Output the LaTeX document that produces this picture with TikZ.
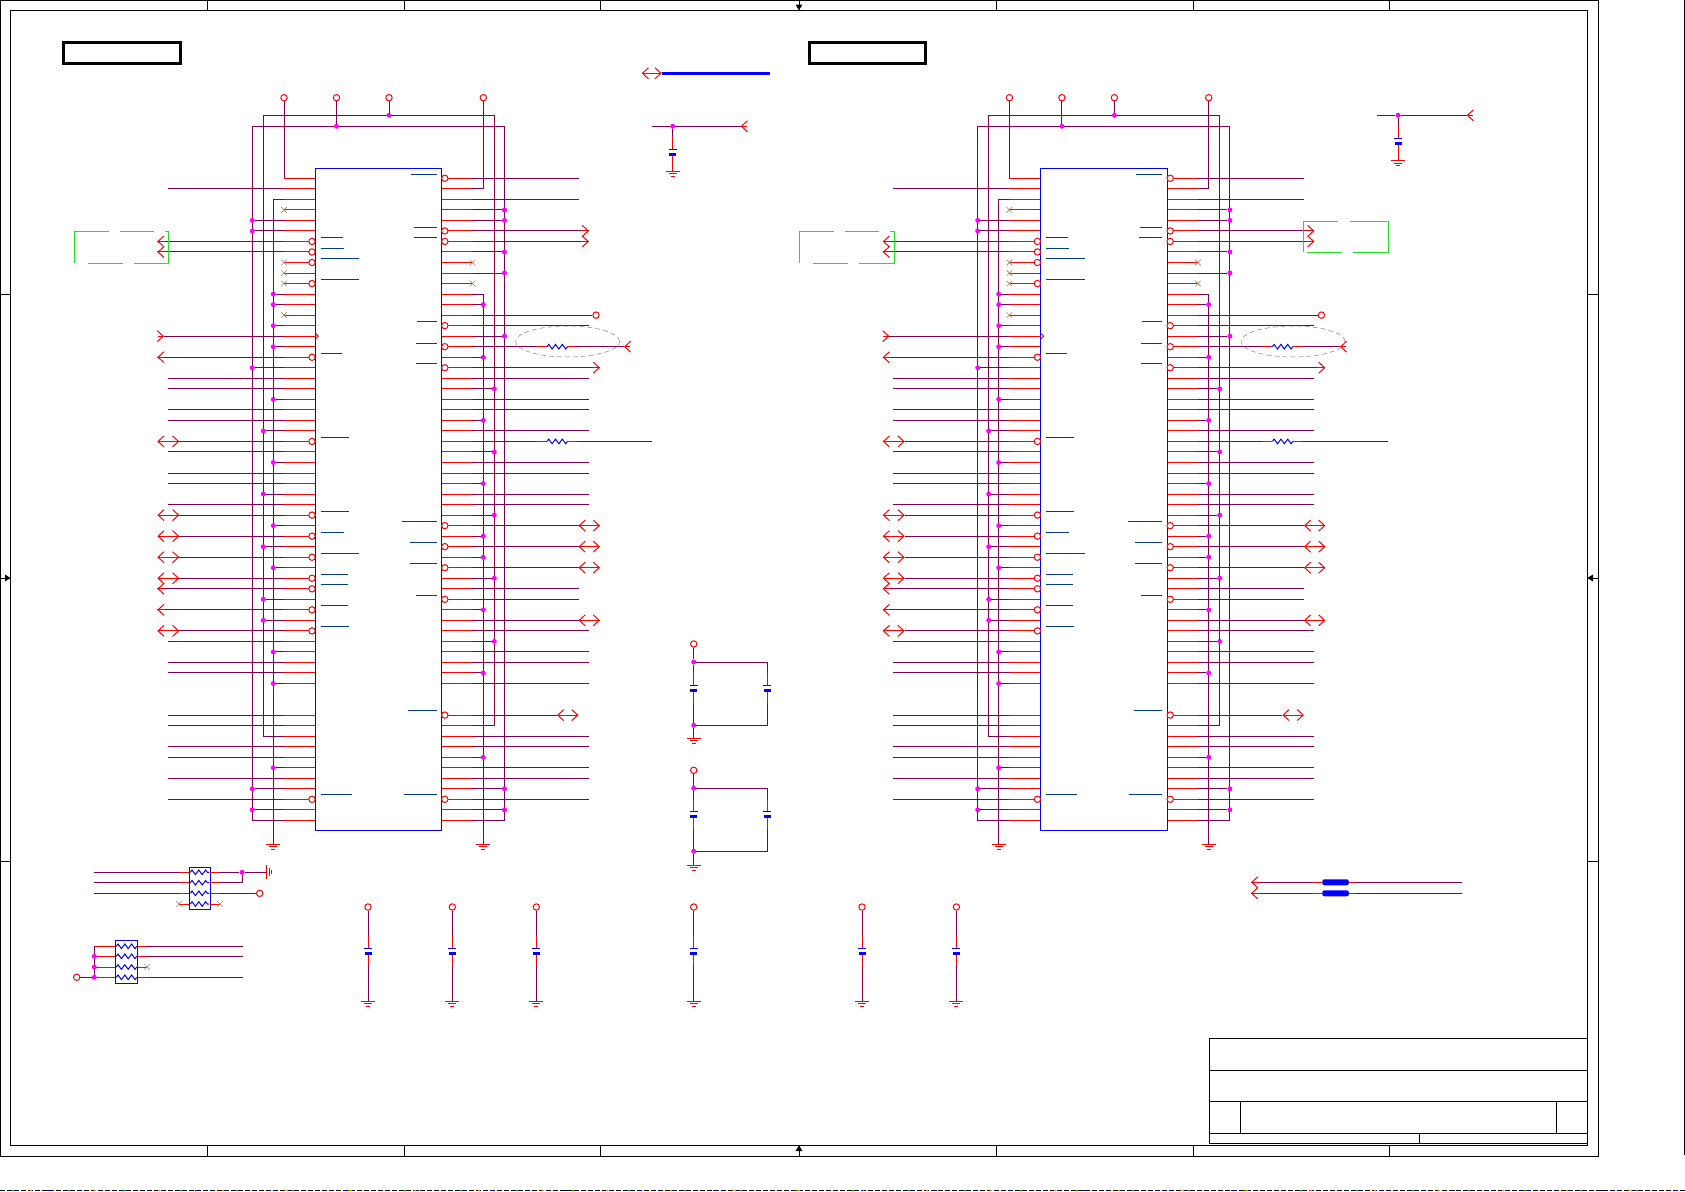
\documentclass[tikz,border=0pt]{standalone}
\usepackage{tikz}
\usetikzlibrary{arrows.meta,decorations.pathmorphing,shapes.geometric,shapes.misc}

\definecolor{wirecol}{HTML}{800050}
\definecolor{barcol}{HTML}{004080}
\definecolor{nccol}{HTML}{A88060}
\definecolor{boxgreen}{HTML}{22E022}
\definecolor{dotcol}{HTML}{FF00FF}
\definecolor{pincol}{HTML}{FF0000}
\definecolor{chipcol}{HTML}{0000FF}

% ground symbol hanging below a named coordinate
\newcommand{\earth}[1]{%
  \draw[pinwire] ([xshift=-7pt]#1) -- ([xshift=7pt]#1)
    ([xshift=-4pt,yshift=-2.5pt]#1) -- ([xshift=4pt,yshift=-2.5pt]#1)
    ([xshift=-2pt,yshift=-5pt]#1) -- ([xshift=2pt,yshift=-5pt]#1);}

% capacitor: name, x, y of the upper plate
\newcommand{\capbank}[3]{%
  \coordinate (#1p) at (#2,#3);
  \coordinate (#1t) at ([yshift=12pt]#1p);
  \coordinate (#1b) at ([yshift=-18pt]#1p);
  \draw[pinwire] (#1t) -- (#1p);
  \draw[pinwire] ([yshift=-5.3pt]#1p) -- (#1b);
  \draw[platethin] ([xshift=-4pt]#1p) -- ([xshift=4pt]#1p);
  \draw[platefat] ([xshift=-3.5pt,yshift=-5.3pt]#1p) -- ([xshift=3.5pt,yshift=-5.3pt]#1p);}

% one chip with its wiring: name, x shift, end of row 16, end of row 25
\newcommand{\chipunit}[4]{%
\begin{scope}[shift={(#2,0)}]
  \coordinate (#1ta) at (252.3,126.3);
  \coordinate (#1tz) at (504.5,126.3);
  \coordinate (#1tb) at (263.3,115.3);
  \coordinate (#1ty) at (494.3,115.3);
  \coordinate (#1lg) at (273.3,844);
  \coordinate (#1rg) at (483.3,844);
  \coordinate (#1le) at (168,0);
  \coordinate (#1lh) at (157.3,0);
  \coordinate (#1lu) at (179.3,0);
  \coordinate (#1lj) at (164,0);
  \coordinate (#1re) at (589,0);
  \coordinate (#1rs) at (578.5,0);
  \coordinate (#1rw) at (600,0);
  \coordinate (#1ra) at (537,0);
  \coordinate (#1rb) at (547,0);
  \coordinate (#1rc) at (567.5,0);
  \coordinate (#1rd) at (577,0);
  \foreach \i in {0,...,48,51,52,...,61}{
    \pgfmathsetmacro\ry{178.3+10.525*\i}
    \coordinate (#1lp\i) at (315.3,\ry);
    \coordinate (#1lk\i) at (284,\ry);
    \coordinate (#1rp\i) at (441.5,\ry);
    \coordinate (#1rk\i) at (472.5,\ry);
  }

  % supply rails
  \draw[sigwire] (#1lk61) -| (#1ta) -- (#1tz) |- (#1rk61);
  \draw[sigwire] (#1lk53) -| (#1tb) -- (#1ty) |- (#1rk52);
  \draw[sigwire] (#1lk2) -| (#1lg);
  \draw[sigwire] (#1rk11) -| (#1rg);
  \earth{#1lg}
  \earth{#1rg}

  \node[ringmark] (#1vp1) at (284,97.7) {};
  \node[ringmark] (#1vp2) at (336.5,97.7) {};
  \node[ringmark] (#1vp3) at (389,97.7) {};
  \node[ringmark] (#1vp4) at (483.3,97.7) {};
  \node[junction] (#1vd2) at (336.5,126.3) {};
  \node[junction] (#1vd3) at (389,115.3) {};
  \draw[sigwire] (#1vp1) -- (#1lk0);
  \draw[sigwire] (#1vp2) -- (#1vd2);
  \draw[sigwire] (#1vp3) -- (#1vd3);
  \draw[sigwire] (#1rk1) -| (#1vp4);

  % junctions on the rails, left side
  \foreach \i in {4,5,18,58,60}{
    \node[junction] (#1da\i) at (#1lk\i -| #1ta) {};
    \draw[sigwire] (#1lk\i) -- (#1da\i);}
  \foreach \i in {24,30,35,40,42}{
    \node[junction] (#1db\i) at (#1lk\i -| #1tb) {};
    \draw[sigwire] (#1lk\i) -- (#1db\i);}
  \foreach \i in {11,12,14,16,21,27,33,37,45,48,56}{
    \node[junction] (#1dc\i) at (#1lk\i -| #1lg) {};
    \draw[sigwire] (#1lk\i) -- (#1dc\i);}
  % junctions on the rails, right side
  \foreach \i in {3,4,7,9,15,58,60}{
    \node[junction] (#1dz\i) at (#1rk\i -| #1tz) {};
    \draw[sigwire] (#1rk\i) -- (#1dz\i);}
  \foreach \i in {20,26,32,38,44}{
    \node[junction] (#1dy\i) at (#1rk\i -| #1ty) {};
    \draw[sigwire] (#1rk\i) -- (#1dy\i);}
  \foreach \i in {12,17,23,29,34,36,41,47,55}{
    \node[junction] (#1dx\i) at (#1rk\i -| #1rg) {};
    \draw[sigwire] (#1rk\i) -- (#1dx\i);}

  % plain signal rows
  \foreach \i in {1,19,20,22,23,26,28,29,31,44,46,47,51,52,54,55,57,59}
    \draw[sigwire] (#1lk\i) -- (#1lk\i -| #1le);
  \foreach \i in {14,19,21,22,24,27,28,30,31,43,45,46,48,53,54,56,57,59}
    \draw[sigwire] (#1rk\i) -- (#1rk\i -| #1re);
  \foreach \i in {0,2,39,40}
    \draw[sigwire] (#1rk\i) -- (#1rk\i -| #1rs);

  % row 13 ends in an off-page ring
  \coordinate (#1rv) at (596,0);
  \node[ringmark] (#1vp5) at (#1rk13 -| #1rv) {};
  \draw[sigwire] (#1rk13) -- (#1vp5);

  % rows with a series resistor
  \foreach \i/\e in {16/#3,25/#4}{
    \coordinate (#1rz\i) at (\e,0);
    \draw[sigwire] (#1rk\i) -- (#1rk\i -| #1ra);
    \draw[pinwire] (#1rk\i -| #1ra) -- (#1rk\i -| #1rb);
    \draw[resline] (#1rk\i -| #1rb) -- (#1rk\i -| #1rc);
    \draw[pinwire] (#1rk\i -| #1rc) -- (#1rk\i -| #1rd);
    \draw[sigwire] (#1rk\i -| #1rd) -- (#1rk\i -| #1rz\i);
  }
  \coordinate (#1rt) at (#1rk16 -| #1rz16);
  \draw[pinwire,<-] (#1rt) -- ([xshift=6pt]#1rt);

  % off-page connectors, left
  \foreach \i in {6,7,17,39,41}{
    \coordinate (#1lt\i) at (#1lk\i -| #1lh);
    \draw[sigwire] (#1lk\i) -- (#1lt\i);
    \draw[pinwire,<-] (#1lt\i) -- ([xshift=8pt]#1lt\i);}
  \foreach \i in {25,32,34,36,38,43}{
    \draw[sigwire] (#1lk\i) -- (#1lk\i -| #1lu);
    \draw[pinwire,<->] (#1lk\i -| #1lh) -- (#1lk\i -| #1lu);}
  \coordinate (#1lt15) at (#1lk15 -| #1lj);
  \draw[sigwire] (#1lk15) -- (#1lt15);
  \draw[pinwire,->] ([xshift=-6pt]#1lt15) -- (#1lt15);

  % off-page connectors, right
  \foreach \i in {5,6}{
    \coordinate (#1rt\i) at (#1rk\i -| #1re);
    \draw[sigwire] (#1rk\i) -- (#1rt\i);
    \draw[pinwire,->] ([xshift=-8pt]#1rt\i) -- (#1rt\i);}
  \coordinate (#1rt18) at (#1rk18 -| #1rw);
  \draw[sigwire] (#1rk18) -- (#1rt18);
  \draw[pinwire,->] ([xshift=-8pt]#1rt18) -- (#1rt18);
  \foreach \i in {33,35,37,42}{
    \draw[sigwire] (#1rk\i) -- (#1rk\i -| #1rs);
    \draw[pinwire,<->] (#1rk\i -| #1rs) -- (#1rk\i -| #1rw);}
  \coordinate (#1rt51) at (#1rk51 -| #1rs);
  \draw[sigwire] (#1rk51) -- ([xshift=-21.5pt]#1rt51);
  \draw[pinwire,<->] ([xshift=-21.5pt]#1rt51) -- (#1rt51);

  % pin stubs and the chip outline
  \foreach \i in {0,...,48,51,52,...,61}{
    \draw[pinwire] (#1lk\i) -- (#1lp\i);
    \draw[pinwire] (#1rp\i) -- (#1rk\i);}
  \node[chipbox] (#1) at (378.4,499.3) {};
  \draw[pinwire] ([yshift=3pt]#1lp15) -- ([xshift=3pt]#1lp15) -- ([yshift=-3pt]#1lp15);

  % inverted pins
  \foreach \i in {6,7,8,10,17,25,32,34,36,38,39,41,43,59}
    \node[ringmark] (#1li\i) at ([xshift=-3.3pt]#1lp\i) {};
  \foreach \i in {0,5,6,14,16,18,33,35,37,40,51,59}
    \node[ringmark] (#1ri\i) at ([xshift=3.3pt]#1rp\i) {};

  % open pins
  \foreach \i in {3,8,9,10,13}
    \node[openpin] (#1ln\i) at (#1lk\i) {};
  \foreach \i in {8,10}
    \node[openpin] (#1rn\i) at (#1rk\i) {};

  % overbars of the pin names
  \foreach \yy/\xx in {237.3/342.8,248.3/344,258.3/359.4,279.3/359.4,353.3/342,437.3/349,
      511.3/349,532.3/344,553.3/359.3,574.3/347.7,584.3/347.7,605.3/348,626.3/349,794.3/352}
    \draw[overbar] (320.7,\yy) -- (\xx,\yy);
  \foreach \yy/\xx in {174.3/410.8,227.3/414.4,237.3/414,321.3/417,343.3/416,363.3/415.6,
      521.3/402.3,542.7/410,563.3/410,595.3/416,710.3/408.3,794.3/404}
    \draw[overbar] (\xx,\yy) -- (436.6,\yy);

  % dashed outline left of the chip
  \draw[greenline] (108.7,231.3) -- (74.3,231.3) -- (74.3,263.3);
  \draw[greenline] (119.8,231.3) -- (154,231.3);
  \draw[greenline] (165,231.3) -- (168.6,231.3) -- (168.6,263.3) -- (134,263.3);
  \draw[greenline] (88,263.3) -- (122.6,263.3);

  % ring round the series resistor
  \node[haloring] (#1halo) at (567.6,341.5) {};
\end{scope}}

\begin{document}
\begin{tikzpicture}[x=1pt,y=-1pt,>={Straight Barb[length=6pt,width=11pt]}]
  \tikzstyle{sigwire}=[draw=wirecol,line width=1pt]
  \tikzstyle{pinwire}=[draw=pincol,line width=1pt]
  \tikzstyle{resline}=[draw=chipcol,line width=1pt,decorate,decoration={zigzag,segment length=6.8pt,amplitude=2.3pt}]
  \tikzstyle{overbar}=[draw=barcol,line width=1pt]
  \tikzstyle{greenline}=[draw=boxgreen,line width=1pt]
  \tikzstyle{frameline}=[draw=black,line width=1pt]
  \tikzstyle{platethin}=[draw=chipcol,line width=1pt]
  \tikzstyle{platefat}=[draw=chipcol,line width=2.8pt]
  \tikzstyle{chipbox}=[draw=chipcol,line width=1pt,minimum width=126.4pt,minimum height=662pt,inner sep=0pt]
  \tikzstyle{packbox}=[draw=chipcol,line width=1pt,inner sep=0pt]
  \tikzstyle{headbox}=[draw=black,line width=3pt,inner sep=0pt,minimum height=21pt]
  \tikzstyle{beadbox}=[fill=chipcol,rounded corners=2pt,minimum width=26.5pt,minimum height=6pt,inner sep=0pt]
  \tikzstyle{ringmark}=[circle,draw=pincol,fill=white,line width=1pt,minimum size=6.4pt,inner sep=0pt]
  \tikzstyle{junction}=[circle,fill=dotcol,minimum size=5pt,inner sep=0pt]
  \tikzstyle{openpin}=[cross out,draw=nccol,line width=.6pt,minimum size=5pt,inner sep=0pt]
  \tikzstyle{haloring}=[ellipse,draw=gray,line width=.5pt,dash pattern=on 5pt off 3pt,minimum width=104pt,minimum height=31pt,inner sep=0pt]

  \useasboundingbox (0,0) rectangle (1685,1191);

  % sheet frame
  \draw[frameline] (0.5,0.5) rectangle (1598.3,1156.3);
  \draw[frameline] (10.3,10.3) rectangle (1587.3,1145.3);
  \draw[frameline] (1684.3,0) -- (1684.3,1155);
  \foreach \xx in {207.4,404,600.7,799,996,1193,1389.7}{
    \draw[frameline] (\xx,0.5) -- (\xx,10.3);
    \draw[frameline] (\xx,1145.3) -- (\xx,1156.3);}
  \foreach \yy in {294.3,578,861.3}{
    \draw[frameline] (0.5,\yy) -- (10.3,\yy);
    \draw[frameline] (1587.3,\yy) -- (1598.3,\yy);}
  \fill[black] (795.5,4.5) -- (802.5,4.5) -- (799,10.3) -- cycle;
  \fill[black] (795.5,1151) -- (802.5,1151) -- (799,1145.3) -- cycle;
  \fill[black] (5,574.5) -- (5,581.5) -- (10.3,578) -- cycle;
  \fill[black] (1593,574.5) -- (1593,581.5) -- (1587.3,578) -- cycle;

  % scan edge at the foot of the sheet
  \draw[black,line width=1pt,dash pattern=on 5pt off 2pt] (0,1190.3) -- (1685,1190.3);
  \foreach \xx in {12,68,...,1680} \draw[green!80!black,line width=1pt] (\xx,1190.3) -- +(2,0);
  \foreach \xx in {30,94,...,1680} \draw[orange,line width=1pt] (\xx,1190.3) -- +(2,0);
  \foreach \xx in {47,121,...,1680} \draw[chipcol,line width=1pt] (\xx,1190.3) -- +(2,0);

  % title block
  \draw[frameline] (1209.3,1038.3) rectangle (1587.3,1143.3);
  \draw[frameline] (1209.3,1070.3) -- (1587.3,1070.3);
  \draw[frameline] (1209.3,1101.3) -- (1587.3,1101.3);
  \draw[frameline] (1209.3,1133.3) -- (1587.3,1133.3);
  \draw[frameline] (1240.3,1101.3) -- (1240.3,1133.3);
  \draw[frameline] (1556.3,1101.3) -- (1556.3,1133.3);
  \draw[frameline] (1419.3,1133.3) -- (1419.3,1143.3);

  \node[headbox,minimum width=117pt] (heada) at (121.6,52.5) {};
  \node[headbox,minimum width=116pt] (headb) at (867.4,52.5) {};

  \chipunit{ua}{0}{624}{652}
  \chipunit{ub}{725.4}{614.6}{663}

  % second outline, right of the lower chip
  \draw[greenline] (1338,221.3) -- (1303.3,221.3) -- (1303.3,252.3);
  \draw[greenline] (1349.7,221.3) -- (1388.3,221.3) -- (1388.3,252.3) -- (1353.3,252.3);
  \draw[greenline] (1307.3,252.3) -- (1342,252.3);

  % bus
  \coordinate (busa) at (641.7,73.3);
  \coordinate (busb) at (661.7,73.3);
  \coordinate (busc) at (769.5,73.3);
  \draw[draw=chipcol,line width=3pt] (busb) -- (busc);
  \draw[pinwire,<->] (busa) -- (busb);

  % decoupling with off-page tail, upper
  \coordinate (tlaa) at (651.7,126.3);
  \coordinate (tlab) at (740.7,126.3);
  \node[junction] (tlad) at (672.7,126.3) {};
  \draw[sigwire] (tlaa) -- (tlad);
  \draw[sigwire] (tlad) -- (tlab);
  \draw[pinwire,<-] (tlab) -- +(6,0);
  \capbank{tlc}{672.7}{149.3}
  \draw[sigwire] (tlad) -- (tlct);
  \coordinate (tlg) at (672.7,171.3);
  \draw[pinwire] (tlcb) -- (tlg);
  \earth{tlg}

  \coordinate (trka) at (1377,115.3);
  \coordinate (trkb) at (1466.7,115.3);
  \node[junction] (trkd) at (1398,115.3) {};
  \draw[sigwire] (trka) -- (trkd);
  \draw[sigwire] (trkd) -- (trkb);
  \draw[pinwire,<-] (trkb) -- +(6,0);
  \capbank{trc}{1398}{138.3}
  \draw[sigwire] (trkd) -- (trct);
  \coordinate (trg) at (1398,160.7);
  \draw[pinwire] (trcb) -- (trg);
  \earth{trg}

  % paired capacitors
  \foreach \n/\yr/\yd/\yp/\ye/\yg in {m/644/662/685.3/725.3/738.3,n/770.3/788.3/811.3/851.3/865.3}{
    \node[ringmark] (\n r) at (693.7,\yr) {};
    \node[junction] (\n d) at (693.7,\yd) {};
    \node[junction] (\n e) at (693.7,\ye) {};
    \coordinate (\n g) at (693.7,\yg);
    \capbank{\n x}{693.7}{\yp}
    \capbank{\n y}{767.3}{\yp}
    \draw[sigwire] (\n r) -- (\n d);
    \draw[sigwire] (\n d) -- (\n xt);
    \draw[sigwire] (\n xb) -- (\n e);
    \draw[sigwire] (\n e) -- (\n g);
    \draw[sigwire] (\n d) -| (\n yt);
    \draw[sigwire] (\n yb) |- (\n e);
    \earth{\n g}
  }

  % single capacitors along the foot
  \foreach \n/\xx in {a/368,b/452.3,c/536.3,d/693.7,e/862,f/956.4}{
    \node[ringmark] (s\n r) at (\xx,907) {};
    \coordinate (s\n g) at (\xx,1001.3);
    \capbank{s\n c}{\xx}{948.3}
    \draw[sigwire] (s\n r) -- (s\n ct);
    \draw[sigwire] (s\n cb) -- (s\n g);
    \earth{s\n g}
  }

  % resistor pack, upper
  \node[packbox,minimum width=21pt,minimum height=42pt] (rpa) at (199.8,888.3) {};
  \foreach \k/\yy in {1/872.3,2/882.7,3/893.3,4/904}{
    \coordinate (rpaa\k) at (179.3,\yy);
    \coordinate (rpab\k) at (189.3,\yy);
    \coordinate (rpac\k) at (210.3,\yy);
    \coordinate (rpad\k) at (220,\yy);
    \draw[pinwire] (rpaa\k) -- (rpab\k);
    \draw[pinwire] (rpac\k) -- (rpad\k);
    \draw[resline] ([xshift=1pt]rpab\k) -- ([xshift=-1pt]rpac\k);
  }
  \coordinate (rpaw) at (94,0);
  \foreach \k in {1,2,3}
    \draw[sigwire] (rpaa\k -| rpaw) -- (rpaa\k);
  \node[junction] (rpaj) at (242,872.3) {};
  \coordinate (rpag) at (266.7,872.3);
  \node[ringmark] (rpar) at (259.7,893.3) {};
  \draw[sigwire] (rpad1) -- (rpaj);
  \draw[sigwire] (rpaj) -- (rpag);
  \draw[sigwire] (rpad2) -| (rpaj);
  \draw[sigwire] (rpad3) -- (rpar);
  \draw[pinwire] ([yshift=7pt]rpag) -- ([yshift=-7pt]rpag)
    ([xshift=2.5pt,yshift=4pt]rpag) -- ([xshift=2.5pt,yshift=-4pt]rpag)
    ([xshift=5pt,yshift=2pt]rpag) -- ([xshift=5pt,yshift=-2pt]rpag);
  \node[openpin] (rpan) at (rpaa4) {};
  \node[openpin] (rpam) at (rpad4) {};

  % resistor pack, lower
  \node[packbox,minimum width=22.4pt,minimum height=43pt] (rpb) at (126.5,961.8) {};
  \foreach \k/\yy in {1/946.3,2/956.3,3/967,4/977.3}{
    \coordinate (rpba\k) at (94.3,\yy);
    \coordinate (rpbb\k) at (115.3,\yy);
    \coordinate (rpbc\k) at (137.7,\yy);
    \coordinate (rpbd\k) at (147.3,\yy);
    \draw[pinwire] (rpba\k) -- (rpbb\k);
    \draw[pinwire] (rpbc\k) -- (rpbd\k);
    \draw[resline] ([xshift=1pt]rpbb\k) -- ([xshift=-1pt]rpbc\k);
  }
  \draw[sigwire] (rpba1) -- (rpba4);
  \node[junction] (rpbj2) at (rpba2) {};
  \node[junction] (rpbj3) at (rpba3) {};
  \node[junction] (rpbj4) at (rpba4) {};
  \node[ringmark] (rpbr) at (76.7,977.3) {};
  \draw[sigwire] (rpbr) -- (rpbj4);
  \coordinate (rpbw) at (242.7,0);
  \foreach \k in {1,2,4}
    \draw[sigwire] (rpbd\k) -- (rpbd\k -| rpbw);
  \node[openpin] (rpbn) at (rpbd3) {};

  % series beads
  \foreach \k/\yy in {1/882.3,2/893.3}{
    \node[beadbox] (fb\k) at (1335.5,\yy) {};
    \coordinate (fbt\k) at (1251,\yy);
    \coordinate (fbe\k) at (1461.7,\yy);
    \coordinate (fbl\k) at (1313,\yy);
    \coordinate (fbr\k) at (1355,\yy);
    \draw[sigwire] (fbt\k) -- (fb\k);
    \draw[sigwire] (fb\k) -- (fbe\k);
    \draw[pinwire,<-] (fbt\k) -- +(9,0);
    \draw[pinwire] (fbl\k) -- (fb\k);
    \draw[pinwire] (fb\k) -- (fbr\k);
  }
\end{tikzpicture}
\end{document}
